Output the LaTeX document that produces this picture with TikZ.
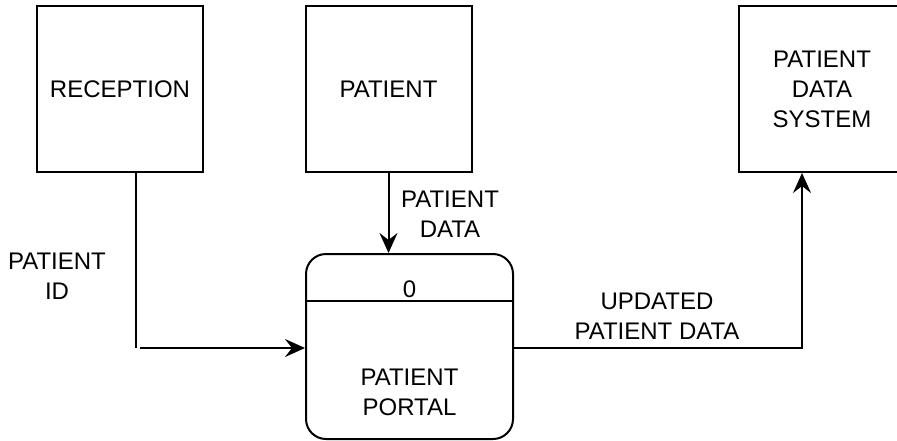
\documentclass[tikz,border=0pt]{standalone}
\usepackage{fontspec}
\setmainfont{Liberation Sans}
\usetikzlibrary{positioning, arrows.meta}
\tikzset{
    x=0.5pt, y=-0.5pt, % one unit is one pixel of the sketch
    every node/.style={font=\fontsize{12}{15}\selectfont, align=center, inner sep=0pt},
    entity/.style={draw, line width=1pt, minimum width=83pt, minimum height=83pt}, % external entities
    process/.style={draw, line width=1pt, rounded corners=10pt, minimum width=103.5pt, minimum height=92.5pt},
    flow/.style={line width=1pt, -{Stealth[length=10pt, width=9pt, inset=3.5pt]}}, % data flows
    }

\begin{document}
\begin{tikzpicture}
    \useasboundingbox (0,0) rectangle (897,440);

    \node[entity] at (120,89) (RECEPTION) {RECEPTION};
    \node[entity] at (388.5,89) (PATIENT) {PATIENT};
    \node[entity] at (822,89) (PDS) {PATIENT\\DATA\\SYSTEM};

    \node[process] at (409.5,346.5) (PORTAL) {};
    \node at (409.5,289) (NUM) {0};
    \node at (409.5,392) (NAME) {PATIENT\\PORTAL};
    \draw[line width=1pt] (PORTAL.west |- 0,301) -- (PORTAL.east |- 0,301);

    \coordinate (IDBEND) at (136,348);

    \draw[line width=1pt] ([xshift=8pt]RECEPTION.south) -- (IDBEND);
    \draw[flow] ([xshift=2pt]IDBEND) -- (PORTAL.west |- IDBEND);
    \node at (57,276) (IDLABEL) {PATIENT\\ID};

    \draw[flow] (PATIENT.south) -- (PATIENT.south |- PORTAL.north);
    \node at (450,214) (DATALABEL) {PATIENT\\DATA};

    \draw[flow] (PORTAL.east |- IDBEND) -| ([xshift=-10pt]PDS.south);
    \node at (657,316) (UPDLABEL) {UPDATED\\PATIENT DATA};

\end{tikzpicture}
\end{document}
